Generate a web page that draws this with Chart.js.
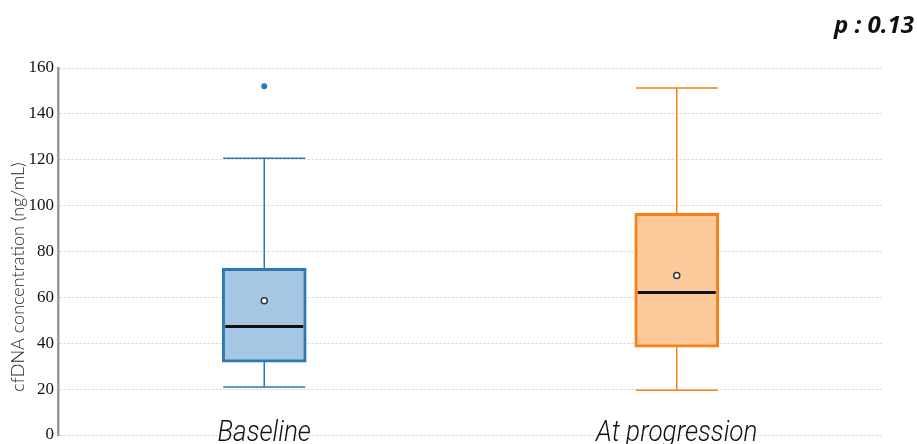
<!DOCTYPE html>
<html>
<head>
<meta charset="utf-8">
<script src="https://cdn.jsdelivr.net/npm/chart.js@4"></script>
<style>
  html, body { margin: 0; padding: 0; background: #fff; }
  #wrap { width: 917px; height: 444px; position: relative; }
</style>
</head>
<body>
<div id="wrap"><canvas id="boxChart"></canvas></div>
<script>
// box plot numbers
const groups = ['Baseline', 'At progression'];
const whiskerLow = [20.9, 19.5];
const q1 = [31.8, 38.3];
const medians = [47.3, 62.1];
const q3 = [72.7, 96.6];
const whiskerHigh = [120.7, 151.3];
const means = [58.5, 69.5];
const outliers = [152.0, null];
const yMin = 0, yMax = 160, yStep = 20;
const yTitle = 'cfDNA concentration (ng/mL)';
const pValue = 'p : 0.13';

const strokeColors = ['#2b78b5', '#fb7f15'];
const fillColors = ['#a5c7e4', '#fdca9c'];

// whiskers + median line, drawn right after the boxes
const boxExtras = {
  id: 'boxExtras',
  afterDatasetDraw(chart, args) {
    if (args.index !== 0) return;
    const ctx = chart.ctx;
    const x = chart.scales.x, y = chart.scales.y;
    const half = 41;
    ctx.save();
    groups.forEach((g, i) => {
      const cx = x.getPixelForValue(i);
      ctx.strokeStyle = strokeColors[i];
      ctx.lineWidth = 1.5;
      ctx.beginPath();
      // upper whisker
      ctx.moveTo(cx, y.getPixelForValue(q3[i]));
      ctx.lineTo(cx, y.getPixelForValue(whiskerHigh[i]));
      ctx.moveTo(cx - half, y.getPixelForValue(whiskerHigh[i]));
      ctx.lineTo(cx + half, y.getPixelForValue(whiskerHigh[i]));
      // lower whisker
      ctx.moveTo(cx, y.getPixelForValue(q1[i]));
      ctx.lineTo(cx, y.getPixelForValue(whiskerLow[i]));
      ctx.moveTo(cx - half, y.getPixelForValue(whiskerLow[i]));
      ctx.lineTo(cx + half, y.getPixelForValue(whiskerLow[i]));
      ctx.stroke();
      // median
      ctx.strokeStyle = '#111';
      ctx.lineWidth = 3;
      ctx.beginPath();
      ctx.moveTo(cx - half + 2, y.getPixelForValue(medians[i]));
      ctx.lineTo(cx + half - 2, y.getPixelForValue(medians[i]));
      ctx.stroke();
    });
    ctx.restore();
  }
};

// category names, axis title and the p value
const textExtras = {
  id: 'textExtras',
  afterDraw(chart) {
    const ctx = chart.ctx;
    const x = chart.scales.x;
    ctx.save();
    ctx.fillStyle = '#111';
    ctx.textAlign = 'center';
    ctx.textBaseline = 'alphabetic';
    ctx.font = 'italic 300 29px Roboto';
    groups.forEach((g, i) => {
      ctx.save();
      ctx.translate(x.getPixelForValue(i), 441);
      ctx.scale(0.9, 1);
      ctx.fillText(g, 0, 0);
      ctx.restore();
    });

    ctx.save();
    ctx.translate(18, 277);
    ctx.rotate(-Math.PI / 2);
    ctx.textBaseline = 'middle';
    ctx.fillStyle = '#222';
    ctx.font = '300 18px Lato';
    ctx.fillText(yTitle, 0, 0);
    ctx.restore();

    ctx.textAlign = 'right';
    ctx.textBaseline = 'middle';
    ctx.font = 'italic 700 24px "Open Sans"';
    ctx.fillText(pValue, 914, 26);
    ctx.restore();
  }
};

new Chart(document.getElementById('boxChart'), {
  data: {
    labels: groups,
    datasets: [
      {
        type: 'bar',
        order: 2,
        data: groups.map((g, i) => [q1[i], q3[i]]),
        backgroundColor: fillColors,
        borderColor: strokeColors,
        borderWidth: 3,
        borderSkipped: false,
        barThickness: 84
      },
      {
        type: 'line',
        order: 1,
        data: means,
        showLine: false,
        pointRadius: 3,
        pointBackgroundColor: '#fff',
        pointBorderColor: '#333',
        pointBorderWidth: 1.5
      },
      {
        type: 'line',
        order: 0,
        data: outliers,
        showLine: false,
        pointRadius: 3,
        pointBackgroundColor: strokeColors[0],
        pointBorderColor: strokeColors[0],
        pointBorderWidth: 0
      }
    ]
  },
  options: {
    responsive: true,
    maintainAspectRatio: false,
    animation: false,
    layout: { padding: { top: 68, right: 34, bottom: 9, left: 0 } },
    plugins: {
      legend: { display: false },
      tooltip: { enabled: false }
    },
    scales: {
      x: { display: false },
      y: {
        min: yMin,
        max: yMax,
        afterFit(scale) {
          scale.width = 58;
          scale.paddingTop = 0;
          scale.paddingBottom = 0;
        },
        ticks: {
          stepSize: yStep,
          padding: 4,
          color: '#111',
          font: { family: '"Liberation Serif"', size: 17 }
        },
        grid: { color: '#d0d0d0', lineWidth: 1, drawTicks: false },
        border: { display: true, color: '#9a9a9a', width: 2.5, dash: [2, 2] }
      }
    }
  },
  plugins: [boxExtras, textExtras]
});
</script>
</body>
</html>
